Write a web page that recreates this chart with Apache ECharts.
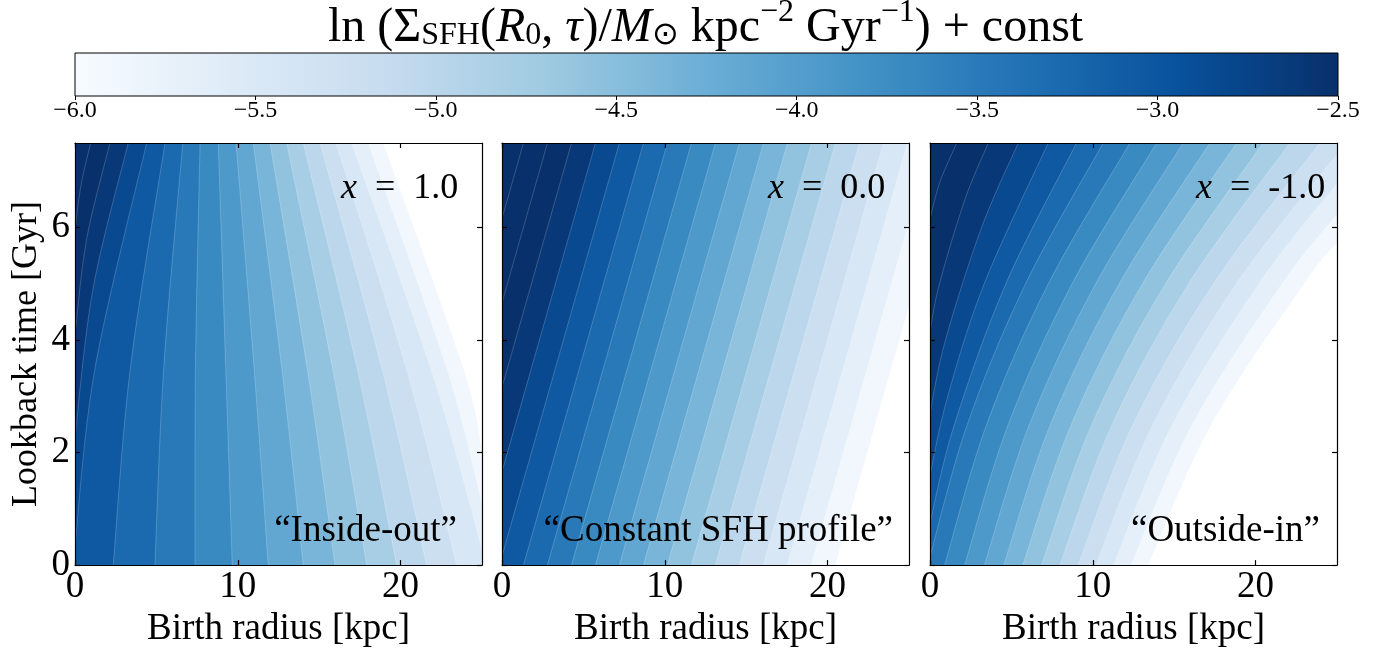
<!DOCTYPE html>
<html>
<head>
<meta charset="utf-8">
<script src="https://cdn.jsdelivr.net/npm/echarts@6/dist/echarts.min.js"></script>
<style>
  html, body { margin: 0; padding: 0; background: #ffffff; }
  #chart { width: 1390px; height: 653px; }
</style>
</head>
<body>
<div id="chart"></div>
<script>
// ---- colour scale -------------------------------------------------------
const colorbarTicks = [-6.0, -5.5, -5.0, -4.5, -4.0, -3.5, -3.0, -2.5];
const colorRange = [-6.0, -2.5];
// filled-contour levels of ln Sigma_SFH (+ const); bands above the colour range saturate
const levels = [-6.0, -5.78125, -5.5625, -5.34375, -5.125, -4.90625, -4.6875, -4.46875, -4.25, -4.03125,
                -3.8125, -3.59375, -3.375, -3.15625, -2.9375, -2.71875, -2.5, -2.28125, -2.0625, -1.84375];
// "Blues" colour map anchors
const blues = ['#f7fbff', '#deebf7', '#c6dbef', '#9ecae1', '#6baed6', '#4292c6', '#2171b5', '#08519c', '#08306b'];

// ---- axes ---------------------------------------------------------------
const radiusTicks = [0, 10, 20];
const timeTicks = [0, 2, 4, 6];
const radiusRange = [0, 25];
const timeRange = [0, 7.5];

// ---- contour boundaries -------------------------------------------------
// one line per level (levels[0], levels[1], ...), points [R0 kpc, tau Gyr] ordered by tau
const insideOut = [
  [[25, 2.04], [23.85, 3.5], [18.94, 7.5]],
  [[25, 1.1], [22.83, 3.5], [18.01, 7.5]],
  [[25, 0.3], [21.85, 3.5], [16.99, 7.5]],
  [[23.45, 0], [20.35, 3.5], [16.03, 7.5]],
  [[21.6, 0], [18.85, 3.5], [15.05, 7.5]],
  [[19.76, 0], [17.33, 3.5], [14.02, 7.5]],
  [[17.92, 0], [15.82, 3.5], [13.0, 7.5]],
  [[15.97, 0], [14.26, 3.5], [11.98, 7.5]],
  [[14.02, 0], [12.7, 3.5], [10.95, 7.5]],
  [[11.87, 0], [11.0, 3.5], [9.89, 7.5]],
  [[9.66, 0], [9.26, 3.5], [8.80, 7.5]],
  [[7.37, 0], [7.4, 3.5], [7.68, 7.5]],
  [[4.91, 0], [5.45, 3.5], [6.62, 7.5]],
  [[2.35, 0], [3.4, 3.5], [5.53, 7.5]],
  [[0, 0.34], [1.23, 3.5], [4.40, 7.5]],
  [[0, 2.27], [1.1, 4.9], [3.27, 7.5]],
  [[0, 4.1], [0.72, 5.8], [2.15, 7.5]],
  [[0, 5.96], [0.37, 6.75], [0.96, 7.5]]
];
const constantProfile = [
  [[20.48, 0], [25, 4.6]],
  [[19.0, 0], [25, 6.1]],
  [[17.53, 0], [24.9, 7.5]],
  [[16.06, 0], [23.43, 7.5]],
  [[14.58, 0], [21.95, 7.5]],
  [[13.11, 0], [20.48, 7.5]],
  [[11.64, 0], [19.01, 7.5]],
  [[10.16, 0], [17.53, 7.5]],
  [[8.69, 0], [16.06, 7.5]],
  [[7.21, 0], [14.58, 7.5]],
  [[5.74, 0], [13.11, 7.5]],
  [[4.27, 0], [11.64, 7.5]],
  [[2.79, 0], [10.16, 7.5]],
  [[1.32, 0], [8.69, 7.5]],
  [[0, 0.16], [7.21, 7.5]],
  [[0, 1.66], [5.74, 7.5]],
  [[0, 3.16], [4.27, 7.5]],
  [[0, 4.66], [2.79, 7.5]],
  [[0, 6.16], [1.32, 7.5]]
];
const outsideIn = [
  [[13.4, 0], [17.28, 2.5], [22.98, 5], [25, 5.73]],
  [[12.35, 0], [16.11, 2.5], [21.62, 5], [25, 6.23]],
  [[11.28, 0], [14.89, 2.5], [20.2, 5], [25, 6.78]],
  [[10.2, 0], [13.7, 2.5], [18.82, 5], [25, 7.3]],
  [[9.1, 0], [12.47, 2.5], [17.41, 5], [23.94, 7.5]],
  [[7.98, 0], [11.19, 2.5], [15.89, 5], [22.1, 7.5]],
  [[6.85, 0], [9.94, 2.5], [14.47, 5], [20.46, 7.5]],
  [[5.7, 0], [8.68, 2.5], [13.05, 5], [18.83, 7.5]],
  [[4.53, 0], [7.4, 2.5], [11.62, 5], [17.19, 7.5]],
  [[3.34, 0], [6.11, 2.5], [10.18, 5], [15.55, 7.5]],
  [[2.13, 0], [4.81, 2.5], [8.73, 5], [13.92, 7.5]],
  [[0.9, 0], [3.48, 2.5], [7.27, 5], [12.28, 7.5]],
  [[0, 0.15], [2.29, 2.5], [5.87, 5], [10.64, 7.5]],
  [[0, 0.75], [1.5, 2.5], [4.66, 5], [9.0, 7.5]],
  [[0, 1.6], [1.09, 3], [3.33, 5], [7.26, 7.5]],
  [[0, 2.7], [0.95, 4], [3.17, 6], [5.42, 7.5]],
  [[0, 4.15], [0.58, 5], [2.15, 6.5], [3.58, 7.5]],
  [[0, 6.14], [0.6, 6.8], [1.64, 7.5]]
];

const panelBoundaries = [insideOut, constantProfile, outsideIn];
const panelParams = ['1.0', '0.0', '-1.0'];
const panelTags = ['\u201cInside-out\u201d', '\u201cConstant SFH profile\u201d', '\u201cOutside-in\u201d'];

// ---- helpers ------------------------------------------------------------
const SERIF = '"Liberation Serif", "Times New Roman", serif';
const MINUS = '\u2212';

function hexToRgb(h) {
  return [parseInt(h.slice(1, 3), 16), parseInt(h.slice(3, 5), 16), parseInt(h.slice(5, 7), 16)];
}
function bluesAt(t) {
  t = Math.max(0, Math.min(1, t));
  const pos = t * (blues.length - 1);
  const i = Math.min(blues.length - 2, Math.floor(pos));
  const f = pos - i;
  const a = hexToRgb(blues[i]), b = hexToRgb(blues[i + 1]);
  const c = a.map((v, j) => Math.round(v + (b[j] - v) * f));
  return 'rgb(' + c.join(',') + ')';
}
function bandColor(k) {
  const mid = (levels[k] + levels[k + 1]) / 2;
  return bluesAt((mid - colorRange[0]) / (colorRange[1] - colorRange[0]));
}
// smooth path (Catmull-Rom as cubic Bezier) through pixel points
function smoothPath(p) {
  let d = 'M' + p[0][0] + ' ' + p[0][1];
  for (let i = 0; i < p.length - 1; i++) {
    const p0 = p[Math.max(0, i - 1)], p1 = p[i], p2 = p[i + 1], p3 = p[Math.min(p.length - 1, i + 2)];
    const c1 = [p1[0] + (p2[0] - p0[0]) / 6, p1[1] + (p2[1] - p0[1]) / 6];
    const c2 = [p2[0] - (p3[0] - p1[0]) / 6, p2[1] - (p3[1] - p1[1]) / 6];
    d += ' C' + c1[0] + ' ' + c1[1] + ' ' + c2[0] + ' ' + c2[1] + ' ' + p2[0] + ' ' + p2[1];
  }
  return d;
}

// ---- layout -------------------------------------------------------------
const panelLeft = [75, 502, 930];
const panelWidth = 407;
const panelTop = 143;
const panelHeight = 426;

const grids = [{ left: 75, top: 53, width: 1263, height: 43 }];
panelLeft.forEach(l => grids.push({ left: l, top: panelTop, width: panelWidth, height: panelHeight }));

const xAxes = [{
  gridIndex: 0, type: 'value', min: colorRange[0], max: colorRange[1], interval: 0.5,
  axisLine: { show: false },
  axisTick: { show: true, inside: false, length: 4, lineStyle: { color: '#000', width: 1 } },
  axisLabel: { show: true, margin: 3, fontFamily: SERIF, fontSize: 24, color: '#000',
    formatter: v => v.toFixed(1).replace('-', MINUS) },
  splitLine: { show: false }
}];
const yAxes = [{ gridIndex: 0, type: 'value', min: 0, max: 1, show: false }];

const frameLine = { show: true, onZero: false, lineStyle: { color: '#000', width: 1.2 } };
const tickStyle = { show: true, inside: true, length: 5, lineStyle: { color: '#000', width: 1.2 } };

panelLeft.forEach((l, p) => {
  const g = p + 1;
  xAxes.push({
    gridIndex: g, type: 'value', position: 'bottom', min: radiusRange[0], max: radiusRange[1], z: 5,
    axisLine: frameLine,
    axisTick: Object.assign({ customValues: radiusTicks }, tickStyle),
    axisLabel: { show: true, customValues: radiusTicks, margin: 4, fontFamily: SERIF, fontSize: 37, color: '#000' },
    splitLine: { show: false },
    name: 'Birth radius [kpc]', nameLocation: 'middle', nameGap: 44,
    nameTextStyle: { fontFamily: SERIF, fontSize: 37, color: '#000' }
  });
  xAxes.push({
    gridIndex: g, type: 'value', position: 'top', min: radiusRange[0], max: radiusRange[1], z: 5,
    axisLine: frameLine,
    axisTick: Object.assign({ customValues: radiusTicks }, tickStyle),
    axisLabel: { show: false }, splitLine: { show: false }
  });
  yAxes.push({
    gridIndex: g, type: 'value', position: 'left', min: timeRange[0], max: timeRange[1], z: 5,
    axisLine: frameLine,
    axisTick: Object.assign({ customValues: timeTicks }, tickStyle),
    axisLabel: { show: p === 0, customValues: timeTicks, margin: 5, fontFamily: SERIF, fontSize: 37, color: '#000' },
    splitLine: { show: false },
    name: p === 0 ? 'Lookback time [Gyr]' : '', nameLocation: 'middle', nameGap: 30,
    nameTextStyle: { fontFamily: SERIF, fontSize: 36, color: '#000' }
  });
  yAxes.push({
    gridIndex: g, type: 'value', position: 'right', min: timeRange[0], max: timeRange[1], z: 5,
    axisLine: frameLine,
    axisTick: Object.assign({ customValues: timeTicks }, tickStyle),
    axisLabel: { show: false }, splitLine: { show: false }
  });
});

// ---- series -------------------------------------------------------------
const series = [];

// colour bar
series.push({
  type: 'custom', xAxisIndex: 0, yAxisIndex: 0, silent: true,
  data: [[colorRange[0], colorRange[1]]],
  renderItem: (params, api) => {
    const a = api.coord([api.value(0), 1]);
    const b = api.coord([api.value(1), 0]);
    return {
      type: 'rect',
      shape: { x: a[0], y: a[1], width: b[0] - a[0], height: b[1] - a[1] },
      style: {
        fill: new echarts.graphic.LinearGradient(0, 0, 1, 0,
          blues.map((c, i) => ({ offset: i / (blues.length - 1), color: c }))),
        stroke: '#000', lineWidth: 1
      }
    };
  }
});

// filled contours: the region with value >= levels[k] is painted in band k's colour
panelBoundaries.forEach((bounds, p) => {
  series.push({
    type: 'custom', xAxisIndex: 1 + 2 * p, yAxisIndex: 1 + 2 * p, silent: true, clip: true, z: 2,
    data: bounds.map((b, k) => [k, 0]),
    renderItem: (params, api) => {
      const k = api.value(0);
      const line = bounds[k];
      const [r0, r1] = radiusRange, [t0, t1] = timeRange;
      const curve = line.map(pt => api.coord(pt));
      const first = line[0], last = line[line.length - 1];
      const closing = [];
      if (last[0] >= r1) closing.push([r1, t1]);
      closing.push([r0, t1], [r0, t0]);
      if (first[0] >= r1) closing.push([r1, t0]);
      const curveD = smoothPath(curve);
      const fillD = curveD + closing.map(pt => {
        const c = api.coord(pt);
        return ' L' + c[0] + ' ' + c[1];
      }).join('') + ' Z';
      const cs = params.coordSys;
      return {
        type: 'group',
        clipPath: { type: 'rect', shape: { x: cs.x, y: cs.y, width: cs.width, height: cs.height } },
        children: [
          { type: 'path', shape: { pathData: fillD }, style: { fill: bandColor(k), stroke: null } },
          { type: 'path', shape: { pathData: curveD },
            style: { fill: null, stroke: 'rgba(255,255,255,0.28)', lineWidth: 0.7 } }
        ]
      };
    }
  });
});

// ---- texts --------------------------------------------------------------
const graphics = [];
panelLeft.forEach((l, p) => {
  graphics.push({
    type: 'text', left: l + 266, top: 171, z: 20,
    style: {
      text: '{i|x}{n|\u2002=\u2002' + panelParams[p] + '}',
      rich: {
        i: { fontFamily: SERIF, fontStyle: 'italic', fontSize: 36, fill: '#000' },
        n: { fontFamily: SERIF, fontSize: 36, fill: '#000' }
      }
    }
  });
});
const tagFont = '37px ' + SERIF;
graphics.push({ type: 'text', right: 1390 - 457, top: 513, z: 20,
  style: { text: panelTags[0], font: tagFont, fill: '#000' } });
graphics.push({ type: 'text', right: 1390 - 893, top: 513, z: 20,
  style: { text: panelTags[1], font: tagFont, fill: '#000' } });
graphics.push({ type: 'text', right: 1390 - 1320, top: 513, z: 20,
  style: { text: panelTags[2], font: tagFont, fill: '#000' } });

const chart = echarts.init(document.getElementById('chart'), null, { renderer: 'canvas' });
chart.setOption({
  animation: false,
  backgroundColor: '#ffffff',
  title: {
    left: 323, top: -8,
    text: '{n|ln (\u03a3}{sub|SFH}{n|(}{i|R}{sub|0}{n|, }{i|\u03c4}{n|)/}{i|M}{sub|\u2299}{n| kpc}{sup|\u22122}{n| Gyr}{sup|\u22121}{n|) + const}',
    textStyle: {
      fontWeight: 'normal',
      rich: {
        n: { fontFamily: SERIF, fontSize: 48, fontWeight: 'normal', lineHeight: 55, verticalAlign: 'bottom', color: '#000' },
        i: { fontFamily: SERIF, fontSize: 48, fontWeight: 'normal', lineHeight: 55, fontStyle: 'italic', verticalAlign: 'bottom', color: '#000' },
        sub: { fontFamily: SERIF, fontSize: 32, fontWeight: 'normal', lineHeight: 26, verticalAlign: 'bottom', color: '#000' },
        sup: { fontFamily: SERIF, fontSize: 32, fontWeight: 'normal', lineHeight: 33, verticalAlign: 'top', color: '#000' }
      }
    }
  },
  grid: grids,
  xAxis: xAxes,
  yAxis: yAxes,
  series: series,
  graphic: graphics
});
</script>
</body>
</html>
